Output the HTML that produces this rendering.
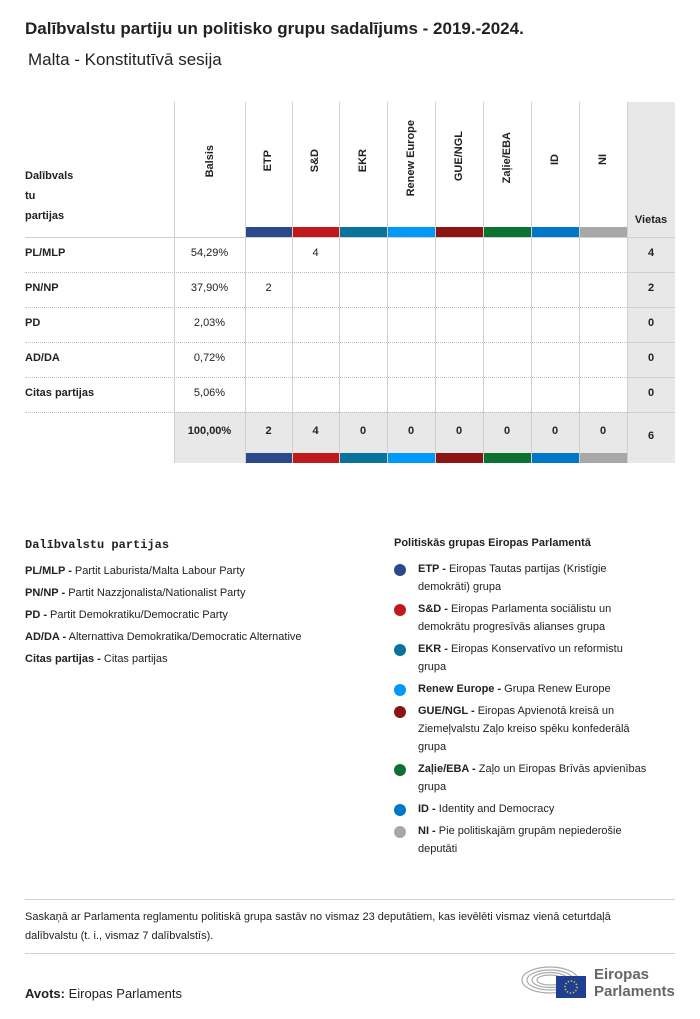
<!DOCTYPE html>
<html><head><meta charset="utf-8"><style>
*{margin:0;padding:0;box-sizing:border-box}
body{width:700px;height:1019px;background:#fff;font-family:"Liberation Sans",sans-serif;color:#222;position:relative;overflow:hidden}
.a{position:absolute}
.v{position:absolute;writing-mode:vertical-rl;transform:rotate(180deg);font-size:11px;font-weight:bold;white-space:nowrap}
.t{position:absolute;font-size:11px;text-align:center}
.b{font-weight:bold}
.vl{position:absolute;width:1px;background:#d0d0d0}
.hl{position:absolute;height:0;border-top:1px dotted #bbb}
.lg{font-size:11px;line-height:20px}
.dot{position:absolute;width:12px;height:12px;border-radius:50%}
.gi{position:absolute;left:418px;font-size:11px;line-height:18px;width:240px}
</style></head><body>
<div class="a b" style="left:25px;top:19px;font-size:17px">Dalībvalstu partiju un politisko grupu sadalījums - 2019.-2024.</div>
<div class="a" style="left:28px;top:50px;font-size:17px">Malta - Konstitutīvā sesija</div>

<div class="a" style="left:627px;top:102px;width:48px;height:361px;background:#e8e8e8"></div>
<div class="a" style="left:174px;top:412px;width:453px;height:51px;background:#e8e8e8"></div>

<div class="a" style="left:245px;top:227px;width:47px;height:10px;background:#2b4a8c"></div>
<div class="a" style="left:292px;top:227px;width:47px;height:10px;background:#c0191b"></div>
<div class="a" style="left:339px;top:227px;width:48px;height:10px;background:#08749e"></div>
<div class="a" style="left:387px;top:227px;width:48px;height:10px;background:#0099f8"></div>
<div class="a" style="left:435px;top:227px;width:48px;height:10px;background:#8b1611"></div>
<div class="a" style="left:483px;top:227px;width:48px;height:10px;background:#0b7231"></div>
<div class="a" style="left:531px;top:227px;width:48px;height:10px;background:#0077c8"></div>
<div class="a" style="left:579px;top:227px;width:48px;height:10px;background:#a8a8a8"></div>
<div class="a" style="left:245px;top:453px;width:47px;height:10px;background:#2b4a8c"></div>
<div class="a" style="left:292px;top:453px;width:47px;height:10px;background:#c0191b"></div>
<div class="a" style="left:339px;top:453px;width:48px;height:10px;background:#08749e"></div>
<div class="a" style="left:387px;top:453px;width:48px;height:10px;background:#0099f8"></div>
<div class="a" style="left:435px;top:453px;width:48px;height:10px;background:#8b1611"></div>
<div class="a" style="left:483px;top:453px;width:48px;height:10px;background:#0b7231"></div>
<div class="a" style="left:531px;top:453px;width:48px;height:10px;background:#0077c8"></div>
<div class="a" style="left:579px;top:453px;width:48px;height:10px;background:#a8a8a8"></div>

<div class="vl" style="left:174px;top:102px;height:361px"></div>
<div class="vl" style="left:245px;top:102px;height:361px"></div>
<div class="vl" style="left:292px;top:102px;height:361px"></div>
<div class="vl" style="left:339px;top:102px;height:361px"></div>
<div class="vl" style="left:387px;top:102px;height:361px"></div>
<div class="vl" style="left:435px;top:102px;height:361px"></div>
<div class="vl" style="left:483px;top:102px;height:361px"></div>
<div class="vl" style="left:531px;top:102px;height:361px"></div>
<div class="vl" style="left:579px;top:102px;height:361px"></div>
<div class="vl" style="left:627px;top:102px;height:361px"></div>

<div class="a" style="left:25px;top:237px;width:650px;height:1px;background:#d0d0d0"></div>
<div class="hl" style="left:25px;top:272px;width:602px"></div>
<div class="hl" style="left:25px;top:307px;width:602px"></div>
<div class="hl" style="left:25px;top:342px;width:602px"></div>
<div class="hl" style="left:25px;top:377px;width:602px"></div>
<div class="hl" style="left:25px;top:412px;width:602px"></div>
<div class="a" style="left:627px;top:272px;width:48px;height:1px;background:#d0d0d0"></div>
<div class="a" style="left:627px;top:307px;width:48px;height:1px;background:#d0d0d0"></div>
<div class="a" style="left:627px;top:342px;width:48px;height:1px;background:#d0d0d0"></div>
<div class="a" style="left:627px;top:377px;width:48px;height:1px;background:#d0d0d0"></div>
<div class="a" style="left:627px;top:412px;width:48px;height:1px;background:#d0d0d0"></div>

<div class="a b" style="left:25px;top:166px;font-size:11px;line-height:20px">Dalībvals<br>tu<br>partijas</div>
<div class="v" style="left:204px;top:145px">Balsis</div>
<div class="v" style="left:262px;top:150px">ETP</div>
<div class="v" style="left:309px;top:149px">S&amp;D</div>
<div class="v" style="left:357px;top:149px">EKR</div>
<div class="v" style="left:405px;top:120px">Renew Europe</div>
<div class="v" style="left:453px;top:131px">GUE/NGL</div>
<div class="v" style="left:501px;top:132px">Zaļie/EBA</div>
<div class="v" style="left:549px;top:154px">ID</div>
<div class="v" style="left:597px;top:154px">NI</div>
<div class="a b" style="left:627px;top:214px;width:48px;text-align:center;font-size:11px">Vietas</div>

<div class="a b" style="left:25px;top:247px;font-size:11px">PL/MLP</div>
<div class="a b" style="left:25px;top:282px;font-size:11px">PN/NP</div>
<div class="a b" style="left:25px;top:317px;font-size:11px">PD</div>
<div class="a b" style="left:25px;top:352px;font-size:11px">AD/DA</div>
<div class="a b" style="left:25px;top:387px;font-size:11px">Citas partijas</div>
<div class="t" style="left:174px;top:247px;width:71px">54,29%</div>
<div class="t" style="left:174px;top:282px;width:71px">37,90%</div>
<div class="t" style="left:174px;top:317px;width:71px">2,03%</div>
<div class="t" style="left:174px;top:352px;width:71px">0,72%</div>
<div class="t" style="left:174px;top:387px;width:71px">5,06%</div>
<div class="t" style="left:292px;top:247px;width:47px">4</div>
<div class="t" style="left:245px;top:282px;width:47px">2</div>
<div class="t b" style="left:627px;top:247px;width:48px">4</div>
<div class="t b" style="left:627px;top:282px;width:48px">2</div>
<div class="t b" style="left:627px;top:317px;width:48px">0</div>
<div class="t b" style="left:627px;top:352px;width:48px">0</div>
<div class="t b" style="left:627px;top:387px;width:48px">0</div>
<div class="t b" style="left:174px;top:425px;width:71px">100,00%</div>
<div class="t b" style="left:245px;top:425px;width:47px">2</div>
<div class="t b" style="left:292px;top:425px;width:47px">4</div>
<div class="t b" style="left:339px;top:425px;width:48px">0</div>
<div class="t b" style="left:387px;top:425px;width:48px">0</div>
<div class="t b" style="left:435px;top:425px;width:48px">0</div>
<div class="t b" style="left:483px;top:425px;width:48px">0</div>
<div class="t b" style="left:531px;top:425px;width:48px">0</div>
<div class="t b" style="left:579px;top:425px;width:48px">0</div>
<div class="t b" style="left:627px;top:430px;width:48px">6</div>

<div class="a b" style="left:25px;top:538px;font-family:'Liberation Mono',monospace;font-size:12px">Dalībvalstu partijas</div>
<div class="a lg" style="left:25px;top:560px;line-height:22px">
<b>PL/MLP -</b> Partit Laburista/Malta Labour Party<br>
<b>PN/NP -</b> Partit Nazzjonalista/Nationalist Party<br>
<b>PD -</b> Partit Demokratiku/Democratic Party<br>
<b>AD/DA -</b> Alternattiva Demokratika/Democratic Alternative<br>
<b>Citas partijas -</b> Citas partijas</div>

<div class="a b" style="left:394px;top:537px;font-size:11px">Politiskās grupas Eiropas Parlamentā</div>
<div class="dot" style="left:394px;top:564px;background:#2b4a8c"></div>
<div class="gi" style="top:560px"><b>ETP -</b> Eiropas Tautas partijas (Kristīgie<br>demokrāti) grupa</div>
<div class="dot" style="left:394px;top:604px;background:#c0191b"></div>
<div class="gi" style="top:600px"><b>S&amp;D -</b> Eiropas Parlamenta sociālistu un<br>demokrātu progresīvās alianses grupa</div>
<div class="dot" style="left:394px;top:644px;background:#08749e"></div>
<div class="gi" style="top:640px"><b>EKR -</b> Eiropas Konservatīvo un reformistu<br>grupa</div>
<div class="dot" style="left:394px;top:684px;background:#0099f8"></div>
<div class="gi" style="top:680px"><b>Renew Europe -</b> Grupa Renew Europe</div>
<div class="dot" style="left:394px;top:706px;background:#8b1611"></div>
<div class="gi" style="top:702px"><b>GUE/NGL -</b> Eiropas Apvienotā kreisā un<br>Ziemeļvalstu Zaļo kreiso spēku konfederālā<br>grupa</div>
<div class="dot" style="left:394px;top:764px;background:#0b7231"></div>
<div class="gi" style="top:760px"><b>Zaļie/EBA -</b> Zaļo un Eiropas Brīvās apvienības<br>grupa</div>
<div class="dot" style="left:394px;top:804px;background:#0077c8"></div>
<div class="gi" style="top:800px"><b>ID -</b> Identity and Democracy</div>
<div class="dot" style="left:394px;top:826px;background:#a8a8a8"></div>
<div class="gi" style="top:822px"><b>NI -</b> Pie politiskajām grupām nepiederošie<br>deputāti</div>

<div class="a" style="left:25px;top:899px;width:650px;height:1px;background:#d0d0d0"></div>
<div class="a" style="left:25px;top:908px;width:660px;font-size:11px;line-height:19px">Saskaņā ar Parlamenta reglamentu politiskā grupa sastāv no vismaz 23 deputātiem, kas ievēlēti vismaz vienā ceturtdaļā<br>dalībvalstu (t. i., vismaz 7 dalībvalstīs).</div>
<div class="a" style="left:25px;top:953px;width:650px;height:1px;background:#d0d0d0"></div>
<div class="a" style="left:25px;top:986px;font-size:13px"><b>Avots:</b> Eiropas Parlaments</div>

<svg class="a" style="left:520px;top:962px" width="70" height="40" viewBox="0 0 70 40">
<g fill="none" stroke="#aaa" stroke-width="1.2">
<ellipse cx="30" cy="18" rx="28" ry="13"/><ellipse cx="30" cy="18" rx="23" ry="10"/><ellipse cx="30" cy="18" rx="18" ry="7.5"/><ellipse cx="30" cy="18" rx="13" ry="5"/></g>
<rect x="36" y="14" width="30" height="22" fill="#1e3f93"/>
<circle cx="51" cy="25" r="6" fill="none" stroke="#fc0" stroke-width="1.5" stroke-dasharray="1.3 1.8"/>
</svg>
<div class="a b" style="left:594px;top:966px;font-size:15px;line-height:17px;color:#666">Eiropas<br>Parlaments</div>
</body></html>
